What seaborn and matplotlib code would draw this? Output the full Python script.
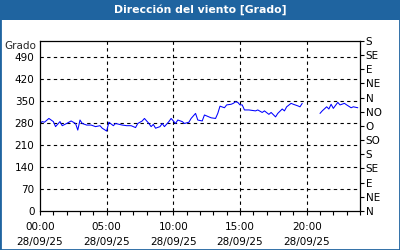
import matplotlib
matplotlib.use("Agg")
import matplotlib.pyplot as plt
from matplotlib.patches import Rectangle
import numpy as np
import pandas as pd
import seaborn as sns

# ---- data ----
times_seg1 = ["00:00", "00:10", "00:20", "00:40", "01:00", "01:10", "01:30", "01:40", "02:00", "02:20",
              "02:40", "02:50", "03:00", "03:10", "03:30", "03:50", "04:10", "04:30", "04:40", "05:00",
              "05:10", "05:30", "05:40", "06:10", "06:30", "06:50", "07:10", "07:20", "07:40", "07:50",
              "08:10", "08:20", "08:30", "08:40", "09:00", "09:10", "09:20", "09:40", "09:50", "10:00",
              "10:10", "10:20", "10:40", "10:50", "11:10", "11:20", "11:40", "11:50", "12:10", "12:20",
              "12:40", "12:50", "13:10", "13:20", "13:30", "13:50", "14:00", "14:20", "14:30", "14:40",
              "14:50", "15:00", "15:10", "15:20", "15:40", "16:10", "16:20", "16:40", "16:50", "17:10",
              "17:20", "17:40", "17:50", "18:10", "18:20", "18:30", "18:50", "19:00", "19:20", "19:30",
              "19:40"]
values_seg1 = [278, 284, 282, 294, 284, 268, 284, 271, 278, 286,
               278, 257, 289, 278, 273, 273, 268, 271, 263, 254,
               282, 271, 278, 273, 271, 271, 265, 278, 286, 294,
               278, 268, 275, 263, 268, 278, 268, 284, 294, 286,
               278, 289, 284, 278, 282, 294, 310, 289, 286, 305,
               299, 296, 294, 310, 333, 328, 337, 339, 342, 347,
               345, 337, 337, 321, 321, 318, 321, 313, 318, 307,
               313, 299, 310, 324, 318, 331, 342, 339, 334, 331,
               342]
times_seg2 = ["21:00", "21:10", "21:30", "21:40", "21:50", "22:00", "22:20", "22:30", "22:50", "23:00",
              "23:20", "23:30", "23:50"]
values_seg2 = [310, 318, 331, 324, 339, 326, 345, 337, 342, 337,
               328, 331, 328]

x_ticks = [0, 5, 10, 15, 20]
x_tick_labels = ["00:00\n28/09/25", "05:00\n28/09/25", "10:00\n28/09/25", "15:00\n28/09/25", "20:00\n28/09/25"]
left_ticks = [0, 70, 140, 210, 280, 350, 420, 490]
right_ticks = [0, 45, 90, 135, 180, 225, 270, 315, 360, 405, 450, 495, 540]
right_labels = ["N", "NE", "E", "SE", "S", "SO", "O", "NO", "N", "NE", "E", "SE", "S"]
title = "Dirección del viento [Grado]"
unit = "Grado"


def to_hours(t):
    h, m = t.split(":")
    return int(h) + int(m) / 60.0


df = pd.concat([
    pd.DataFrame({"hour": [to_hours(t) for t in times_seg1], "deg": values_seg1, "seg": 1}),
    pd.DataFrame({"hour": [to_hours(t) for t in times_seg2], "deg": values_seg2, "seg": 2}),
], ignore_index=True)

sns.set_style("white")
plt.rcParams["font.family"] = ["DejaVu Sans"]
plt.rcParams["font.size"] = 7.5

BLUE = "#1f64a0"
fig = plt.figure(figsize=(4, 2.5), dpi=100)
fig.patch.set_facecolor("white")

# border and title bar
fig.add_artist(Rectangle((0, 0), 1, 1, transform=fig.transFigure, fill=False,
                         edgecolor=BLUE, linewidth=2.0))
fig.add_artist(Rectangle((0, 230 / 250), 1, 20 / 250, transform=fig.transFigure,
                         facecolor=BLUE, edgecolor="none"))
fig.text(0.5, 240 / 250, title, color="white", fontweight="bold", fontsize=7.8,
         ha="center", va="center")

ax = fig.add_axes([40 / 400, 39 / 250, 320 / 400, 170 / 250])
sns.lineplot(data=df, x="hour", y="deg", units="seg", estimator=None, ax=ax,
             color="#0000ff", linewidth=0.75)

ax.set_xlim(0, 24)
ax.set_ylim(0, 540)
ax.set_xlabel("")
ax.set_ylabel("")

ax.set_yticks(left_ticks)
ax.set_yticklabels([str(v) for v in left_ticks])
ax.tick_params(axis="y", which="both", length=0, pad=4, labelsize=7.5, colors="black")

ax.set_xticks(x_ticks)
ax.set_xticklabels(x_tick_labels, linespacing=1.6)
ax.set_xticks(np.arange(0, 25, 1), minor=True)
ax.tick_params(axis="x", which="both", direction="out", length=3, width=0.8,
               bottom=True, pad=5, labelsize=7.5, colors="black")

for v in left_ticks[1:]:
    ax.axhline(v, color="black", linestyle=(0, (3, 3)), linewidth=0.8, zorder=0)
for v in x_ticks[1:]:
    ax.axvline(v, color="black", linestyle=(0, (3, 3)), linewidth=0.8, zorder=0)

for s in ax.spines.values():
    s.set_color("black")
    s.set_linewidth(0.9)
    s.set_visible(True)

ax2 = ax.twinx()
ax2.set_ylim(0, 540)
ax2.set_yticks(right_ticks)
ax2.set_yticklabels(right_labels)
ax2.tick_params(axis="y", direction="out", length=3, width=0.8, pad=1,
                labelsize=7.5, colors="black", right=True)
for s in ax2.spines.values():
    s.set_visible(False)

fig.text(36 / 400, 1 - 46 / 250, unit, ha="right", va="center", fontsize=7.5)

fig.savefig("out.png", dpi=100)
